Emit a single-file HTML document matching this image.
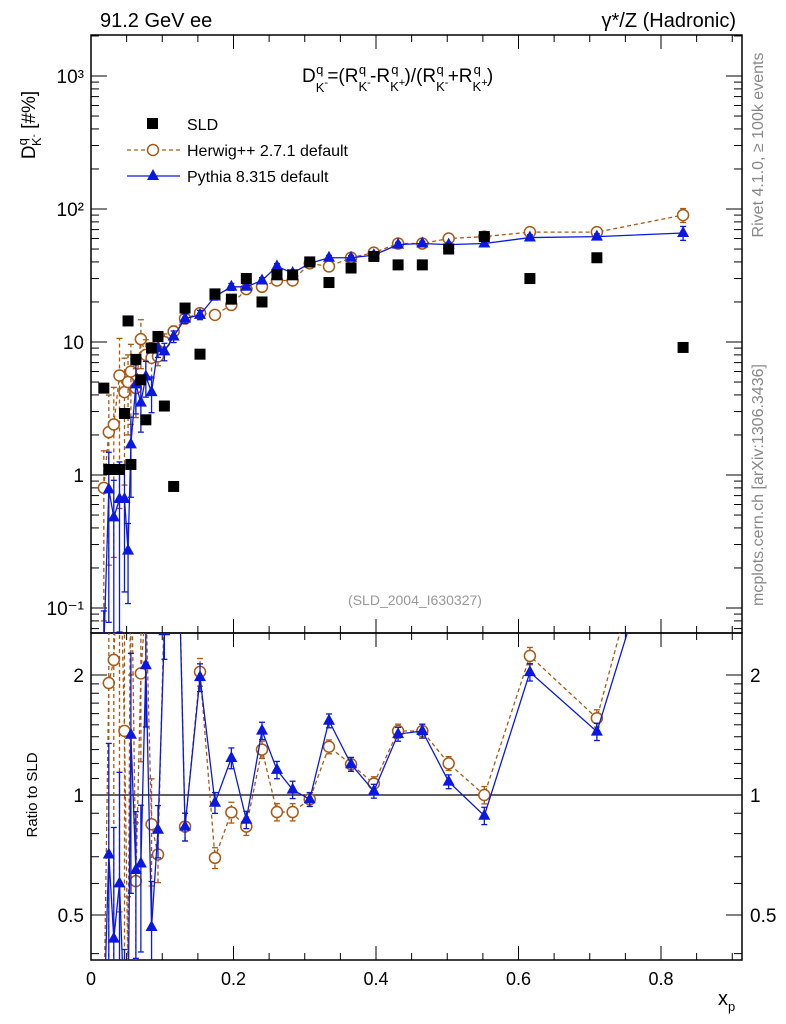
<!DOCTYPE html>
<html><head><meta charset="utf-8"><style>
html,body{margin:0;padding:0;background:#fff;width:786px;height:1024px;overflow:hidden;}
svg{display:block;font-family:"Liberation Sans",sans-serif;}
</style></head><body>
<svg id="c" width="786" height="1024" xmlns="http://www.w3.org/2000/svg"></svg>
<script>
const xs=[0.018,0.025,0.032,0.040,0.047,0.052,0.056,0.063,0.070,0.077,0.085,0.094,0.103,0.116,0.132,0.153,0.174,0.197,0.218,0.240,0.261,0.283,0.307,0.334,0.365,0.397,0.431,0.465,0.502,0.552,0.616,0.710,0.831];
const sld=[4.5,1.1,1.1,1.1,2.9,14.4,1.2,7.4,5.2,2.6,9,11,3.3,0.82,18,8.1,23,21,30,20,32,32,40,28,36,44,38,38,50,62,30,43,9.1];
const herwig=[0.8,2.1,2.4,5.6,4.2,5.0,6.0,4.5,10.5,8,7.6,7.8,10,12,15,16.5,16,19,25,26,29,29,39,37,43,47,55,55,60,62,67,67,90];
const pythia=[0.05,0.78,0.48,0.66,0.66,0.27,1.7,4.8,3.5,5.5,4.2,9,8.5,11,15,16,22,26,26,29,37,33,39,43,43,45,54,55,54,55,61,62,66];
const relErr=[0.9,0.9,0.9,0.9,0.8,0.6,0.6,0.4,0.4,0.3,0.3,0.15,0.15,0.1,0.08,0.08,0.06,0.06,0.05,0.05,0.05,0.05,0.04,0.04,0.04,0.04,0.04,0.04,0.04,0.05,0.05,0.05,0.12];
const xTicks=[0,0.2,0.4,0.6,0.8];
const yTickLabels=["10\u207B\u00B9","1","10","10\u00B2","10\u00B3"];
const rTicks=[0.5,1,2];

const NS="http://www.w3.org/2000/svg";
const svg=document.getElementById('c');
function el(t,a,p){const e=document.createElementNS(NS,t);for(const k in a)e.setAttribute(k,a[k]);(p||svg).appendChild(e);return e;}
const X0=91,X1=742,YT=35,YM=633,YB=960;
const xp=v=>X0+v*712.5;
const cl=y=>Math.min(Math.max(y,0),1020);
const yMain=v=>cl(475-133*Math.log10(v));
const yRat=v=>cl(795-120*Math.log2(v));

const defs=el('defs',{});
const c1=el('clipPath',{id:'cm'},defs);el('rect',{x:X0,y:YT,width:X1-X0,height:YM-YT},c1);
const c2=el('clipPath',{id:'cr'},defs);el('rect',{x:X0,y:YM,width:X1-X0,height:YB-YM},c2);

const fm=el('rect',{x:X0,y:YT,width:X1-X0,height:YM-YT,fill:'none',stroke:'#000','stroke-width':1.5});

const fr=el('rect',{x:X0,y:YM,width:X1-X0,height:YB-YM,fill:'none',stroke:'#000','stroke-width':1.5});


for(let v=0;v<=0.91;v+=0.05){const big=Math.abs(v/0.2-Math.round(v/0.2))<1e-6;const L=big?14:7;const x=xp(v);
 el('line',{x1:x,x2:x,y1:YM,y2:YM-L,stroke:'#000'});el('line',{x1:x,x2:x,y1:YM,y2:YM+L,stroke:'#000'});
 el('line',{x1:x,x2:x,y1:YB,y2:YB-L,stroke:'#000'});el('line',{x1:x,x2:x,y1:YT,y2:YT+L,stroke:'#000'});}
xTicks.forEach(v=>{const t=el('text',{x:xp(v),y:985,'font-size':18,'text-anchor':'middle'});t.textContent=(v===0?'0':String(v));
 });
for(let d=-2;d<=3;d++){for(let m=1;m<10;m++){const v=m*Math.pow(10,d);const y=475-133*Math.log10(v);if(y<YT||y>YM)continue;const L=m===1?16:8;
 el('line',{x1:X0,x2:X0+L,y1:y,y2:y,stroke:'#000'});el('line',{x1:X1,x2:X1-L,y1:y,y2:y,stroke:'#000'});}}
yTickLabels.forEach((s,i)=>{const t=el('text',{x:84,y:yMain(Math.pow(10,i-1))+7,'font-size':19,'text-anchor':'end'});t.textContent=s;
 });
[0.4,0.5,0.6,0.7,0.8,0.9,1,2].forEach(v=>{const y=795-120*Math.log2(v);if(y<YM||y>YB)return;const L=(v==0.5||v==1||v==2)?16:8;
 el('line',{x1:X0,x2:X0+L,y1:y,y2:y,stroke:'#000'});el('line',{x1:X1,x2:X1-L,y1:y,y2:y,stroke:'#000'});});
for(let v=1.1;v<2;v+=0.1){const y=yRat(v);el('line',{x1:X0,x2:X0+8,y1:y,y2:y,stroke:'#000'});el('line',{x1:X1,x2:X1-8,y1:y,y2:y,stroke:'#000'});}
rTicks.forEach(v=>{const s=String(v);const t=el('text',{x:84,y:yRat(v)+7,'font-size':19,'text-anchor':'end'});t.textContent=s;
 
 const t2=el('text',{x:750,y:yRat(v)+7,'font-size':19});t2.textContent=s;
 });
const ref=el('line',{x1:X0,x2:X1,y1:yRat(1),y2:yRat(1),stroke:'#000','stroke-width':1.2});


const gm=el('g',{'clip-path':'url(#cm)'});
const gr=el('g',{'clip-path':'url(#cr)'});

function series(vals,col,dash,marker,g,yf,name,ratio){
 const pts=vals.map((v,i)=>{let r=ratio?v/sld[i]:v;return [xp(xs[i]),yf(Math.max(r,1e-3))];});
 const pl=el('polyline',{points:pts.map(p=>p.join(',')).join(' '),fill:'none',stroke:col,'stroke-width':1.3,'stroke-dasharray':dash},g);
 
 vals.forEach((v,i)=>{let r=ratio?v/sld[i]:v;const e=relErr[i];const x=pts[i][0];
  const yl=yf(Math.max(r*(1-e),1e-3)),yh=yf(r*(1+e));
  el('line',{x1:x,x2:x,y1:yl,y2:yh,stroke:col,'stroke-width':1.3,'stroke-dasharray':dash},g);
  el('line',{x1:x-3,x2:x+3,y1:yl,y2:yl,stroke:col,'stroke-width':1.3},g);
  el('line',{x1:x-3,x2:x+3,y1:yh,y2:yh,stroke:col,'stroke-width':1.3},g);
  let m;const y=pts[i][1];
  if(marker==='c')m=el('circle',{cx:x,cy:y,r:5.5,fill:'#fff',stroke:col,'stroke-width':1.5},g);
  else m=el('polygon',{points:`${x},${y-7} ${x-6},${y+4} ${x+6},${y+4}`,fill:col},g);
  });
}
series(herwig,'#a85a14','4,3','c',gm,yMain,'herwig',false);
series(pythia,'#0a18e0','','t',gm,yMain,'pythia',false);
sld.forEach((v,i)=>{const x=xp(xs[i]),y=yMain(v);const r=el('rect',{x:x-5.5,y:y-5.5,width:11,height:11,fill:'#000'},gm);
 });
series(herwig,'#a85a14','4,3','c',gr,yRat,'herwig-ratio',true);
series(pythia,'#0a18e0','','t',gr,yRat,'pythia-ratio',true);

function txt(s,a,name){const t=el('text',a);t.innerHTML=s;return t;}
txt('91.2 GeV ee',{x:100,y:27,'font-size':20},'top-left-label');
txt('γ*/Z (Hadronic)',{x:736,y:27,'font-size':20,'text-anchor':'end'},'top-right-label');
txt('D<tspan font-size="13" dy="10">K</tspan><tspan font-size="11" dy="-6">-</tspan><tspan font-size="13" dy="-12" dx="-12">q</tspan><tspan dy="8" dx="4">=(R</tspan><tspan font-size="13" dy="9">K</tspan><tspan font-size="11" dy="-5">-</tspan><tspan font-size="13" dy="-12" dx="-12">q</tspan><tspan dy="8" dx="4">-R</tspan><tspan font-size="13" dy="9">K</tspan><tspan font-size="11" dy="-5">+</tspan><tspan font-size="13" dy="-12" dx="-14">q</tspan><tspan dy="8" dx="6">)/(R</tspan><tspan font-size="13" dy="9">K</tspan><tspan font-size="11" dy="-5">-</tspan><tspan font-size="13" dy="-12" dx="-12">q</tspan><tspan dy="8" dx="4">+R</tspan><tspan font-size="13" dy="9">K</tspan><tspan font-size="11" dy="-5">+</tspan><tspan font-size="13" dy="-12" dx="-14">q</tspan><tspan dy="8" dx="6">)</tspan>',{x:302,y:82,'font-size':19},'formula-title');
txt('D<tspan font-size="13" dy="-8">q</tspan><tspan font-size="13" dy="14" dx="-8">K</tspan><tspan font-size="10" dy="-4">-</tspan><tspan dy="-2"> [#%]</tspan>',{transform:'translate(35,125) rotate(-90)','font-size':19,'text-anchor':'middle'},'y-axis-title');
txt('Ratio to SLD',{transform:'translate(37,795) rotate(-90)','font-size':15,'text-anchor':'middle'},'ratio-axis-title');
txt('x<tspan font-size="13" dy="6">p</tspan>',{x:718,y:1005,'font-size':20},'x-axis-title');
txt('(SLD_2004_I630327)',{x:415,y:605,'font-size':14,fill:'#999','text-anchor':'middle'},'analysis-id');
txt('Rivet 4.1.0, ≥ 100k events',{transform:'translate(763,145) rotate(-90)','font-size':16,fill:'#888','text-anchor':'middle'},'rivet-label');
txt('mcplots.cern.ch [arXiv:1306.3436]',{transform:'translate(763,485) rotate(-90)','font-size':16,fill:'#888','text-anchor':'middle'},'mcplots-label');
const lg=el('g',{});
let r=el('rect',{x:147,y:118,width:11,height:11,fill:'#000'},lg);
txt('SLD',{x:187,y:130,'font-size':16},'legend-sld');
el('line',{x1:127,x2:180,y1:150,y2:150,stroke:'#a85a14','stroke-width':1.3,'stroke-dasharray':'4,3'},lg);
el('circle',{cx:153,cy:150,r:5.5,fill:'#fff',stroke:'#a85a14','stroke-width':1.5},lg);
txt('Herwig++ 2.7.1 default',{x:187,y:156,'font-size':16},'legend-herwig');
el('line',{x1:127,x2:180,y1:176,y2:176,stroke:'#0a18e0','stroke-width':1.3},lg);
el('polygon',{points:'153,169 147,180 159,180',fill:'#0a18e0'},lg);
txt('Pythia 8.315 default',{x:187,y:182,'font-size':16},'legend-pythia');
</script>
</body></html>
